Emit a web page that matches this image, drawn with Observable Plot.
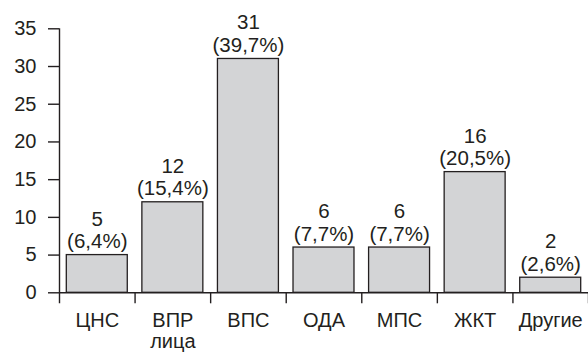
<!DOCTYPE html>
<html>
<head>
<meta charset="utf-8">
<script src="https://cdn.jsdelivr.net/npm/d3@7"></script>
<script src="https://cdn.jsdelivr.net/npm/@observablehq/plot@0.6"></script>
<style>
  html, body { margin: 0; padding: 0; background: #ffffff; }
  #chart svg { display: block; overflow: visible; }
</style>
</head>
<body>
<div id="chart"></div>
<script>
const categories = ["ЦНС", "ВПР\nлица", "ВПС", "ОДА", "МПС", "ЖКТ", "Другие"];
const counts = [5, 12, 31, 6, 6, 16, 2];
const percents = ["6,4%", "15,4%", "39,7%", "7,7%", "7,7%", "20,5%", "2,6%"];
const yTicks = [0, 5, 10, 15, 20, 25, 30, 35];

const data = categories.map((c, i) => ({
  i, category: c, count: counts[i], pct: percents[i]
}));
const bandEdges = d3.range(0, categories.length + 1);

const ink = "#231f20";
const font = "'Liberation Sans', Arial, Helvetica, sans-serif";

const chart = Plot.plot({
  width: 588,
  height: 355,
  marginLeft: 59,
  marginRight: 0,
  marginTop: 28.3,
  marginBottom: 62.7,
  style: { fontFamily: font, fontSize: "20px", color: ink, background: "#ffffff", overflow: "visible" },
  x: { type: "linear", domain: [0, categories.length], axis: null },
  y: { domain: [0, 35], axis: null },
  marks: [
    Plot.rectY(data, {
      x1: d => d.i, x2: d => d.i + 1, y: "count",
      insetLeft: 7.3, insetRight: 7.3,
      fill: "#d3d4d6", stroke: ink, strokeWidth: 1.3
    }),
    Plot.ruleY([0], { stroke: ink, strokeWidth: 1.4 }),
    Plot.ruleX([0], { stroke: ink, strokeWidth: 1.4, insetBottom: -11 }),
    Plot.axisY({
      ticks: yTicks, tickSize: 11, tickPadding: 12, label: null,
      fontSize: 20, stroke: ink, strokeWidth: 1.4, fill: ink
    }),
    Plot.ruleX(bandEdges.slice(1), { y1: 0, y2: 0, insetBottom: -11, stroke: ink, strokeWidth: 1.4 }),
    Plot.text(data, {
      x: d => d.i + 0.5, y: 0, text: "category",
      lineAnchor: "top", lineHeight: 1.05, dy: 19,
      fontSize: 20, fill: ink
    }),
    Plot.text(data, {
      x: d => d.i + 0.5, y: "count", text: d => `${d.count}\n(${d.pct})`,
      lineAnchor: "bottom", lineHeight: 1.1, dy: -7,
      fontSize: 20.5, fill: ink
    })
  ]
});
document.getElementById("chart").appendChild(chart);
</script>
</body>
</html>
